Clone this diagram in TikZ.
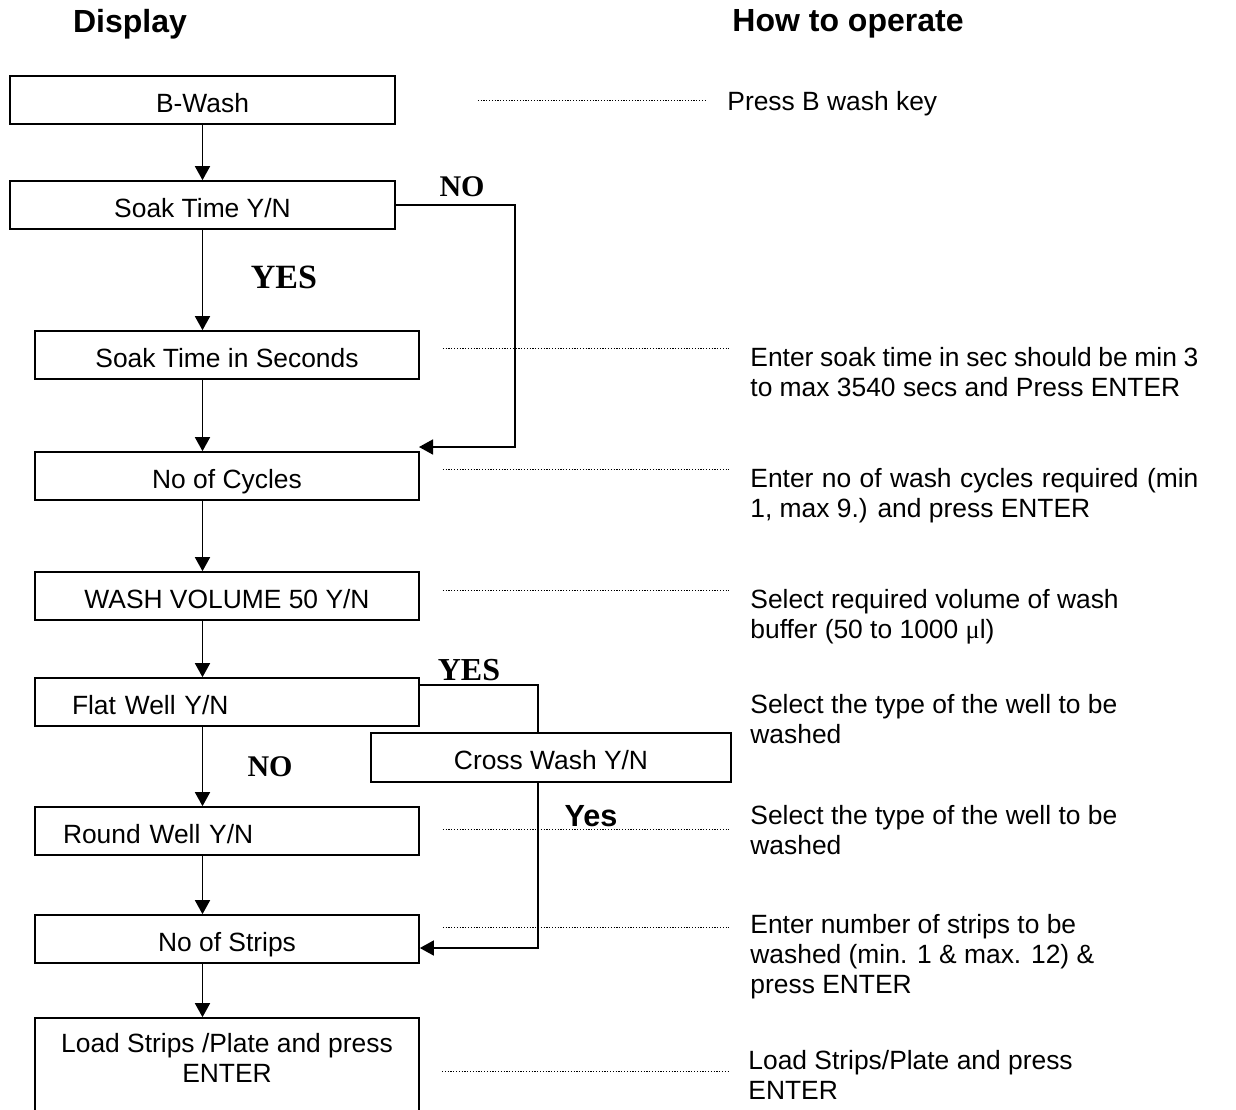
\documentclass[tikz,border=0pt]{standalone}
\usepackage{fontspec}
\setmainfont{Liberation Sans}
\newfontfamily\labfont{Liberation Serif}
\usetikzlibrary{arrows.meta}
\begin{document}
\begin{tikzpicture}[x=0.5pt,y=-0.5pt,
  txt/.style={font=\fontsize{13.2}{15}\selectfont},
  box/.style={draw, line width=0.85pt, minimum width=192pt, minimum height=24pt, inner sep=0pt, txt, text height=14pt, text depth=2pt},
  arr/.style={line width=0.85pt, -{Triangle[length=7pt,width=7.5pt]}},
  conn/.style={line width=0.85pt},
  lead/.style={line width=0.45pt, dash pattern=on 0.6pt off 0.8pt},
  desc/.style={anchor=north west, inner sep=0pt, align=left, txt},
  jdesc/.style={desc, text width=224pt, align=justify},
  lab/.style={inner sep=0pt, font=\labfont\bfseries\fontsize{15}{18}\selectfont},
  head/.style={inner sep=0pt, font=\bfseries\fontsize{16}{19}\selectfont}]
\useasboundingbox (0,0) rectangle (1236,1109);
\clip (0,0) rectangle (1236,1109);

% headings
\node[head] (hdisp) at (130,24) {Display};
\node[head] (hop) at (848,24) {How to operate};

% boxes
\node[box, minimum width=192.5pt] (bwash) at (202.5,100) {B-Wash};
\node[box, minimum width=192.5pt] (soak) at (202.5,205) {Soak Time Y/N};
\node[box] (soaksec) at (227,355) {Soak Time in Seconds};
\node[box] (cycles) at (227,476) {No of Cycles};
\node[box] (volume) at (227,596) {WASH VOLUME 50 Y/N};
\node[box, text width=155pt, inner xsep=18.5pt, align=left] (flat) at (227,702) {Flat Well Y/N};
\node[box, minimum width=180pt, minimum height=24.5pt] (cross) at (551,757.5) {Cross Wash Y/N};
\node[box, text width=164pt, inner xsep=14pt, align=left] (round) at (227,831) {Round Well Y/N};
\node[box] (strips) at (227,939) {No of Strips};
\node[box, minimum height=56pt] (load) at (227,1074) {};
\node[txt, align=center, inner sep=0pt] (loadtxt) at (227,1058) {Load Strips /Plate and press\\ENTER};

% helper coordinates
\coordinate (sp) at (202.5,0);
\coordinate (noc) at (515,205);
\coordinate (noend) at (419,447);
\coordinate (yesF) at (538,685);
\coordinate (yesS) at (538,948);

% main arrows
\draw[arr] (bwash) -- (soak);
\draw[arr] (sp |- soak.south) -- (sp |- soaksec.north);
\draw[arr] (sp |- soaksec.south) -- (sp |- cycles.north);
\draw[arr] (sp |- cycles.south) -- (sp |- volume.north);
\draw[arr] (sp |- volume.south) -- (sp |- flat.north);
\draw[arr] (sp |- flat.south) -- (sp |- round.north);
\draw[arr] (sp |- round.south) -- (sp |- strips.north);
\draw[arr] (sp |- strips.south) -- (sp |- load.north);

% NO branch
\draw[arr] (soak.east) -- (noc) |- (noend);
% YES branch (flat well -> cross wash -> strips)
\draw[conn] (flat.east |- yesF) -- (yesF) -- (yesF |- cross.north);
\draw[arr] (yesS |- cross.south) -- (yesS) -- (strips.east |- yesS);

% labels
\node[lab] (lno1) at (462,187) {NO};
\node[lab, font=\labfont\bfseries\fontsize{17}{20}\selectfont] (lyes1) at (284,277) {YES};
\node[lab, font=\labfont\bfseries\fontsize{16}{19}\selectfont] (lyes2) at (469,670) {YES};
\node[lab] (lno2) at (270,767) {NO};
\node[inner sep=0pt, font=\bfseries\fontsize{15.3}{18}\selectfont] (lyes3) at (591,816) {Yes};

% descriptions
\node[txt, anchor=base west, inner sep=0pt] (d1) at (727,110) {Press B wash key};
\node[jdesc] (d2) at (750,347) {Enter soak time in sec should be min 3\linebreak to max 3540 secs and Press ENTER};
\node[jdesc] (d3) at (750,468) {Enter no of wash cycles required (min\linebreak 1, max 9.) and press ENTER};
\node[desc] (d4) at (750,589) {Select required volume of wash\\buffer (50 to 1000 {\labfont μ}l)};
\node[desc] (d5) at (750,694) {Select the type of the well to be\\washed};
\node[desc] (d6) at (750,805) {Select the type of the well to be\\washed};
\node[desc] (d7) at (750,914) {Enter number of strips to be\\washed (min. 1 \& max. 12) \&\\press ENTER};
\node[desc] (d8) at (748,1050) {Load Strips/Plate and press\\ENTER};

% leader lines
\draw[lead] ([xshift=41pt]bwash.east) -- ++(114pt,0);
\draw[lead] ([xshift=11.5pt,yshift=3.5pt]soaksec.east) -- ++(143pt,0);
\draw[lead] ([xshift=11.5pt,yshift=3.5pt]cycles.east) -- ++(143pt,0);
\draw[lead] ([xshift=11.5pt,yshift=3pt]volume.east) -- ++(143pt,0);
\draw[lead] ([xshift=11.5pt,yshift=1pt]round.east) -- ++(143pt,0);
\draw[lead] ([xshift=11.5pt,yshift=6pt]strips.east) -- ++(143pt,0);
\draw[lead] (442,1071) -- (728,1071);
\end{tikzpicture}
\end{document}
